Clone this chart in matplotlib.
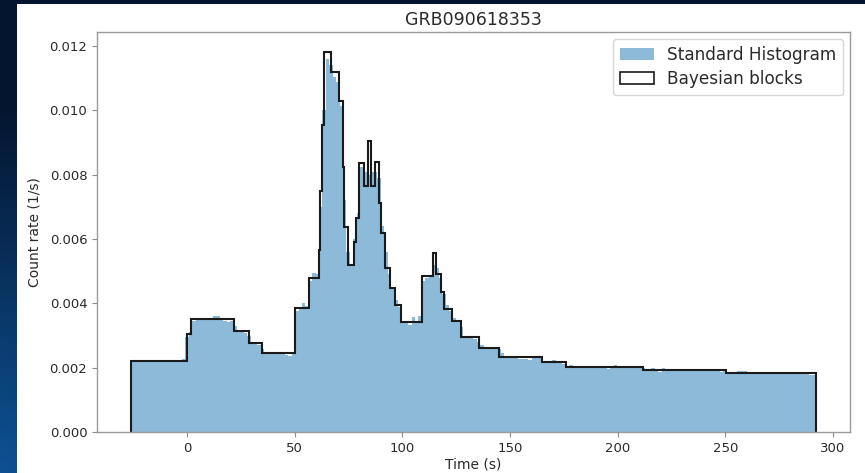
import numpy as np
import matplotlib
matplotlib.use("Agg")
import matplotlib.pyplot as plt
from matplotlib.patches import Rectangle, Patch

# ---------------- data ----------------
title = "GRB090618353"
x_label = "Time (s)"
y_label = "Count rate (1/s)"
legend_labels = ["Standard Histogram", "Bayesian blocks"]

# Bayesian blocks: edges (s) and normalised rates
block_edges = [-26.3, -0.1, 1.9, 21.9, 28.8, 34.7, 50.2, 56.5, 61.3, 61.6,
               62.4, 63.4, 66.6, 70.6, 72.2, 73.0, 74.6, 77.4, 78.5, 80.0,
               82.3, 84.0, 85.6, 87.4, 89.0, 90.1, 92.1, 94.1, 96.7, 99.1,
               109.2, 114.3, 115.7, 118.0, 119.2, 123.1, 127.4, 135.5, 145.0, 164.8,
               176.1, 211.8, 250.2, 292.1]
block_heights = [0.00221, 0.00304, 0.00352, 0.00314, 0.00276, 0.00245, 0.00386, 0.00480, 0.00566, 0.00751,
                 0.00955, 0.01183, 0.01120, 0.01030, 0.00825, 0.00639, 0.00519, 0.00590, 0.00665, 0.00838,
                 0.00766, 0.00905, 0.00766, 0.00840, 0.00711, 0.00618, 0.00511, 0.00447, 0.00395, 0.00343,
                 0.00486, 0.00556, 0.00491, 0.00436, 0.00383, 0.00345, 0.00295, 0.00262, 0.00232, 0.00217,
                 0.00203, 0.00192, 0.00185]

# Standard histogram: 200 equal bins between the first and last block edge
hist_range = (-26.3, 292.1)
hist_values = [
    0.00220, 0.00222, 0.00219, 0.00221, 0.00223, 0.00218, 0.00220, 0.00222, 0.00219, 0.00217,
    0.00221, 0.00220, 0.00223, 0.00219, 0.00222, 0.00226,
    0.00295, 0.00310, 0.00345, 0.00350,
    0.00351, 0.00349, 0.00353, 0.00355, 0.00361, 0.00362, 0.00356, 0.00345, 0.00343, 0.00346,
    0.00330, 0.00318, 0.00312, 0.00309, 0.00300, 0.00278, 0.00275, 0.00272, 0.00258, 0.00247,
    0.00246, 0.00244, 0.00243, 0.00247, 0.00245, 0.00241, 0.00236,
    0.00250,
    0.00375, 0.00388, 0.00400, 0.00392, 0.00470, 0.00495, 0.00490,
    0.00700, 0.01000, 0.01160, 0.01140, 0.01105, 0.01090, 0.01015,
    0.00720, 0.00560, 0.00515, 0.00600, 0.00680, 0.00825, 0.00810, 0.00800, 0.00810, 0.00810, 0.00790,
    0.00640, 0.00560, 0.00490, 0.00445, 0.00410, 0.00390, 0.00345,
    0.00340, 0.00332, 0.00358, 0.00338, 0.00362,
    0.00470, 0.00478, 0.00482, 0.00520, 0.00510, 0.00480, 0.00430, 0.00395, 0.00375, 0.00355,
    0.00342, 0.00325, 0.00300, 0.00297, 0.00292, 0.00289, 0.00280,
    0.00272, 0.00262, 0.00259, 0.00263, 0.00260, 0.00258,
    0.00245,
    0.00234, 0.00236, 0.00233, 0.00235, 0.00228, 0.00226, 0.00227, 0.00225, 0.00229, 0.00231, 0.00233,
    0.00220,
    0.00218, 0.00216, 0.00223, 0.00221, 0.00214, 0.00213,
    0.00205,
    0.00208, 0.00204, 0.00202, 0.00203, 0.00201, 0.00205, 0.00206, 0.00202, 0.00200, 0.00203,
    0.00204, 0.00196, 0.00203, 0.00207, 0.00198, 0.00206, 0.00200, 0.00203, 0.00201, 0.00204,
    0.00202, 0.00200,
    0.00190, 0.00193, 0.00198, 0.00189, 0.00187, 0.00198, 0.00192, 0.00190, 0.00193, 0.00191,
    0.00194, 0.00192, 0.00190, 0.00191, 0.00193, 0.00189, 0.00192, 0.00194, 0.00190, 0.00192,
    0.00197, 0.00193, 0.00186, 0.00189,
    0.00184, 0.00186, 0.00188, 0.00190, 0.00189, 0.00190, 0.00186, 0.00185, 0.00184, 0.00186,
    0.00183, 0.00185, 0.00184, 0.00186, 0.00185, 0.00182, 0.00180, 0.00186, 0.00184, 0.00185,
    0.00183, 0.00186, 0.00181, 0.00179, 0.00178, 0.00177,
]
hist_edges = np.linspace(hist_range[0], hist_range[1], len(hist_values) + 1)

x_ticks = [0, 50, 100, 150, 200, 250, 300]
y_ticks = [0.000, 0.002, 0.004, 0.006, 0.008, 0.010, 0.012]

# ---------------- figure ----------------
W, H = 865, 473
fig = plt.figure(figsize=(W / 100, H / 100), dpi=100, facecolor="#041a35")

# slide background: dark navy with a bluish glow at lower left
bg = fig.add_axes([0, 0, 1, 1], zorder=-20)
bg.set_axis_off()
gy, gx = np.mgrid[0:1:120j, 0:1:220j]
glow = np.clip(1.0 - np.hypot(gx * 3.0, (1 - gy) * 1.3), 0, 1)
base = np.array([0.016, 0.086, 0.190])
hi = np.array([0.05, 0.32, 0.58])
img = base + glow[..., None] * (hi - base)
bg.imshow(img, extent=[0, 1, 0, 1], aspect="auto", origin="upper")
bg.set_xlim(0, 1)
bg.set_ylim(0, 1)
# white slide panel
bg.add_patch(Rectangle((17 / W, 0), 1 - 17 / W, 1 - 4 / H,
                       facecolor="white", edgecolor="none"))

ax = fig.add_axes([97 / W, 1 - 432 / H, (850 - 97) / W, (432 - 32) / H])
ax.set_zorder(1)
ax.set_facecolor("white")

ax.stairs(hist_values, hist_edges, fill=True, color="#1f77b4", alpha=0.5,
          linewidth=0)
ax.stairs(block_heights, block_edges, baseline=0, fill=False, color="#1a1a1a",
          linewidth=1.5)

ax.set_xlim(-41.9, 307.9)
ax.set_ylim(0, 0.01244)
ax.set_xticks(x_ticks)
ax.set_yticks(y_ticks)
ax.set_yticklabels([f"{v:.3f}" for v in y_ticks])
ax.tick_params(labelsize=9.5, colors="#8a8a8a", length=3.5, width=0.8)
for lab in ax.get_xticklabels() + ax.get_yticklabels():
    lab.set_color("#2a2a2a")
for sp in ax.spines.values():
    sp.set_color("#9a9a9a")
    sp.set_linewidth(1.0)

ax.set_xlabel(x_label, fontsize=10, color="#2a2a2a", labelpad=2)
ax.set_ylabel(y_label, fontsize=10, color="#2a2a2a", labelpad=6)
ax.set_title(title, fontsize=12.5, color="#2a2a2a", pad=5)

handles = [Patch(facecolor="#1f77b4", alpha=0.5, edgecolor="none"),
           Patch(facecolor="white", edgecolor="#1a1a1a", linewidth=1.2)]
leg = ax.legend(handles, legend_labels, loc="upper right", fontsize=12.2,
                frameon=True, handlelength=2.0, borderaxespad=0.4,
                labelspacing=0.4)
leg.get_frame().set_edgecolor("#cccccc")
for t in leg.get_texts():
    t.set_color("#2a2a2a")

fig.savefig("out.png", dpi=100, facecolor=fig.get_facecolor())
